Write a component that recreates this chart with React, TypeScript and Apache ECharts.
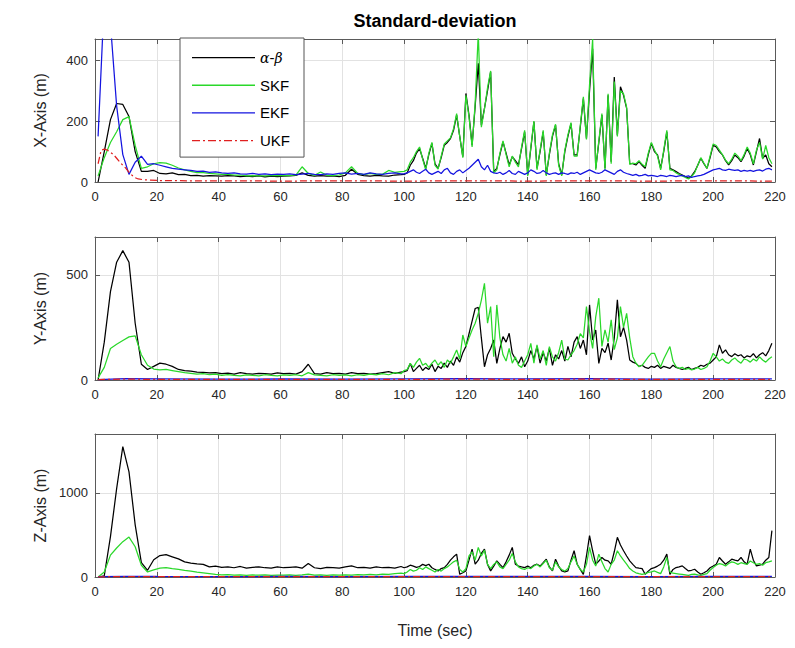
import React, { useEffect, useRef } from "react";
import * as echarts from "echarts";

// ---------- time bases ----------
const timeA = [1,3,5,7,9,11,13,15,17,19,21,23,25,27,29,31,33,35,37,39,41,43,45,47,49,51,53,55,57,59,61,63,65,67,69,71,73,75,77,79,81,83,85,87,89,91,93,95,97,99];
const timeB = [
  100,101,102,103,104,105,106,107,108,109,
  110,111,112,113,114,115,116,117,118,119,
  120,121,122,123,124,125,126,127,128,129,
  130,131,132,133,134,135,136,137,138,139,
  140,141,142,143,144,145,146,147,148,149,
  150,151,152,153,154,155,156,157,158,159,
  160,161,162,163,164,165,166,167,168,169,
  170,171,172,173,174,175,176,177,178,179,
  180,181,182,183,184,185,186,187,188,189,
  190,191,192,193,194,195,196,197,198,199,
  200,201,202,203,204,205,206,207,208,209,
  210,211,212,213,214,215,216,217,218,219];
const time = [...timeA, ...timeB];

// ---------- X axis ----------
const abX = [
  0,100,205,258,255,215,100,35,35,38,
  28,27,30,24,25,21,22,19,21,20,
  19,21,20,18,19,18,20,17,19,18,
  19,20,22,30,22,19,21,19,20,18,
  22,42,25,21,19,22,20,19,23,24,
  25,30,55,70,95,110,78,45,90,127,
  60,45,80,121,130,143,170,220,150,83,
  291,220,121,250,390,187,242,300,362,34,
  45,90,132,95,56,83,70,56,110,165,
  23,110,198,45,100,165,23,90,150,187,
  60,23,100,150,192,89,89,180,274,143,
  300,438,45,130,220,45,285,67,345,154,
  313,285,242,61,60,56,67,55,45,90,
  127,100,89,45,100,165,45,40,34,28,
  23,18,12,20,34,55,78,60,45,80,
  121,115,100,89,70,56,70,89,80,67,
  85,110,90,56,100,143,78,89,60,50];
const skfX = [
  20,80,130,165,205,215,120,45,50,60,
  64,62,55,46,40,35,31,31,28,27,
  25,25,23,23,20,21,20,20,21,21,
  22,21,23,50,28,22,33,22,21,23,
  30,50,28,24,28,25,25,38,32,34,
  35,40,65,80,100,115,75,40,95,130,
  55,42,85,125,135,145,175,225,150,80,
  285,215,115,260,490,180,240,310,365,30,
  40,95,135,90,50,85,65,50,115,170,
  20,115,200,40,105,170,20,95,155,190,
  55,20,105,155,195,85,85,185,280,140,
  320,470,40,135,225,40,290,60,330,150,
  300,290,245,58,62,60,70,58,50,95,
  130,105,85,40,105,170,40,38,30,25,
  20,15,10,18,30,55,80,62,45,85,
  125,120,105,90,72,60,75,95,85,70,
  90,115,95,60,105,130,75,120,80,60];
const ekfX = [
  150,600,520,250,90,25,65,85,58,60,
  55,50,45,42,40,38,35,36,32,33,
  30,28,30,27,26,28,25,27,24,26,
  25,27,24,26,28,25,24,27,25,28,
  30,26,28,25,30,27,25,28,30,27,
  27,30,35,40,32,28,35,42,30,25,
  30,35,28,40,45,30,25,35,40,30,
  38,45,55,65,75,50,40,55,35,30,
  28,32,25,30,38,28,25,35,30,25,
  30,40,35,28,30,38,30,25,28,30,
  25,30,28,25,30,28,32,25,30,35,
  40,35,30,28,32,40,35,30,25,35,
  40,32,28,25,22,25,20,22,25,20,
  22,20,18,22,20,18,22,20,18,20,
  22,18,20,15,18,20,22,25,30,35,
  40,42,45,40,38,42,40,38,40,35,
  38,36,38,35,38,40,36,42,45,40];
const ukfXTime = [1,2,3,4,5,6,7,8,9,10,11,12,13,14,16,18,20,30,40,60,80,100,120,140,160,180,200,219];
const ukfX = [60,105,108,105,98,90,78,66,55,45,32,22,14,10,7,6,5,4,4,3,4,3,4,3,4,3,4,3];

// ---------- Y axis ----------
const abY = [
  0,180,420,560,615,560,270,75,50,65,
  80,75,65,50,45,42,38,36,34,35,
  30,33,28,35,30,28,32,30,28,34,
  30,32,28,40,75,30,28,35,30,32,
  28,35,30,32,28,30,35,40,32,38,
  40,45,79,40,55,70,45,60,50,75,
  40,65,55,80,60,90,70,110,85,130,
  160,220,280,340,345,200,63,120,150,190,
  79,150,206,180,222,127,100,79,110,63,
  90,140,100,160,80,130,90,150,70,120,
  100,140,90,160,110,180,206,150,190,120,
  357,190,238,79,150,130,175,95,200,381,
  206,250,190,95,85,79,65,70,60,55,
  65,60,70,55,65,60,55,70,60,55,
  50,55,60,50,55,60,70,65,75,80,
  95,110,167,127,143,120,111,125,115,120,
  105,115,110,125,105,120,130,115,140,175];
const skfY = [
  10,60,150,170,188,205,210,120,70,52,
  48,50,45,40,35,32,28,30,25,28,
  22,25,22,20,24,22,20,25,22,20,
  24,22,25,20,35,24,22,20,25,22,
  24,20,25,22,28,24,30,25,35,30,
  45,50,79,60,85,103,70,79,60,80,
  95,70,87,60,95,80,110,143,100,214,
  159,200,238,270,317,380,460,270,349,111,
  357,200,120,90,150,80,110,70,60,90,
  120,174,80,167,100,140,70,159,110,90,
  130,190,100,95,120,140,170,220,200,349,
  230,150,300,389,160,238,180,286,145,200,
  349,250,317,200,111,80,63,70,90,110,
  127,127,90,63,100,130,159,90,63,55,
  60,50,55,48,52,60,50,55,63,90,
  127,110,90,100,85,79,95,105,90,80,
  100,95,85,100,90,110,95,85,100,111];

// ---------- Z axis ----------
const abZ = [
  0,15,480,1050,1550,1250,620,170,80,205,
  255,265,240,215,180,165,155,150,120,130,
  115,120,110,125,105,115,120,110,105,120,
  110,115,120,105,160,110,100,115,110,105,
  120,132,110,115,105,120,110,115,105,125,
  110,120,140,130,115,125,150,135,152,110,
  90,72,100,112,150,200,240,272,32,50,
  72,200,332,152,200,280,332,150,72,130,
  192,150,112,180,260,352,152,130,120,112,
  130,110,140,152,130,170,212,120,72,212,
  130,72,60,72,200,312,152,90,32,250,
  492,312,152,190,232,200,192,152,300,472,
  380,312,250,192,150,112,105,100,32,70,
  100,112,130,152,200,272,32,90,112,120,
  132,100,72,80,92,60,32,50,72,110,
  130,152,232,190,152,180,212,200,192,232,
  180,152,332,200,132,140,152,200,232,552];
const skfZ = [
  0,60,260,345,420,475,360,140,60,85,
  105,112,100,92,80,70,58,50,40,30,
  25,28,22,25,20,24,22,26,20,23,
  22,25,20,24,35,22,25,20,24,22,
  25,22,28,24,30,26,35,30,40,45,
  40,60,90,70,80,110,90,120,100,80,
  60,90,70,100,120,150,180,200,90,60,
  100,250,300,200,352,250,320,150,100,150,
  180,120,100,150,200,280,180,120,100,90,
  110,100,130,150,120,160,200,110,80,180,
  120,90,70,100,180,250,150,90,60,150,
  352,200,130,272,180,100,60,150,200,312,
  250,200,152,100,72,50,40,32,40,55,
  60,72,55,40,120,232,60,45,40,35,
  30,25,20,30,35,25,20,30,40,80,
  112,140,160,150,130,160,180,170,150,170,
  160,150,190,170,150,160,140,170,180,192];

// near-zero filters in Y and Z
const lowTime = [1,10,20,40,60,80,100,120,140,160,180,200,219];
const ekfY = [2,6,5,4,5,4,5,6,5,6,4,5,5];
const ukfY = [2,4,3,3,3,3,3,4,3,4,3,3,3];
const ekfZ = [3,8,6,5,6,5,6,7,6,7,5,6,6];
const ukfZ = [2,5,4,4,4,4,4,5,4,5,4,4,4];

// ---------- labels ----------
const seriesNames = ["α-β", "SKF", "EKF", "UKF"];
const axisTitles = ["X-Axis (m)", "Y-Axis (m)", "Z-Axis (m)"];
const yMax = [470, 680, 1700];
const yStep = [200, 500, 1000];
const xTicksMax = 220;
const xStep = 20;

const FONT = "'Liberation Sans', Arial, Helvetica, sans-serif";
const colors = ["#000000", "#2ad82a", "#1414e0", "#e02020"];
const GRID_TOPS = [39, 237, 434];
const GRID_H = 143;
const AX = "#5a5a5a";
const TXT = "#262626";

// legend icons: thin line (solid) and dash-dot, in a 63x14 box
const ANCHORS = "M0,0h0.05v0.05h-0.05zM62.95,13.95h0.05v0.05h-0.05z";
const SOLID_ICON = "path://" + ANCHORS + "M0,6.4h63v1.3h-63z";
const DASHDOT_ICON = "path://" + ANCHORS +
  "M0,6.4h8v1.3h-8zM11,6.4h2v1.3h-2zM16,6.4h8v1.3h-8zM27,6.4h2v1.3h-2zM32,6.4h8v1.3h-8zM43,6.4h2v1.3h-2zM48,6.4h8v1.3h-8zM59,6.4h2v1.3h-2z";

const zip = (t: number[], v: number[]) => t.map((x, i) => [x, v[i]]);

export default function App() {
  const ref = useRef<HTMLDivElement>(null);
  useEffect(() => {
    if (!ref.current) return;
    const chart = echarts.init(ref.current, undefined, { renderer: "svg" });

    const grids = GRID_TOPS.map((top) => ({ left: 95, right: 20, top, height: GRID_H }));

    const xAxes: any[] = [];
    const yAxes: any[] = [];
    for (let i = 0; i < 3; i++) {
      xAxes.push({
        type: "value", gridIndex: i, min: 0, max: xTicksMax, interval: xStep, position: "bottom",
        axisLine: { show: true, onZero: false, lineStyle: { color: AX, width: 1 } },
        axisTick: { show: true, inside: true, length: 5, lineStyle: { color: AX } },
        axisLabel: { show: true, color: TXT, fontSize: 13, fontFamily: FONT, margin: 8, formatter: (v: number) => String(v) },
        splitLine: { show: true, lineStyle: { color: "#e2e2e2", width: 1 } },
        name: i === 2 ? "Time (sec)" : "", nameLocation: "middle", nameGap: 45,
        nameTextStyle: { fontSize: 16, color: TXT, fontFamily: FONT },
      });
      yAxes.push({
        type: "value", gridIndex: i, min: 0, max: yMax[i], interval: yStep[i], position: "left",
        axisLine: { show: true, onZero: false, lineStyle: { color: AX, width: 1 } },
        axisTick: { show: true, inside: true, length: 5, lineStyle: { color: AX } },
        axisLabel: { show: true, color: TXT, fontSize: 13, fontFamily: FONT, margin: 7, showMaxLabel: false, formatter: (v: number) => String(v) },
        splitLine: { show: true, lineStyle: { color: "#e2e2e2", width: 1 } },
        name: axisTitles[i], nameLocation: "middle", nameGap: 47, nameRotate: 90,
        nameTextStyle: { fontSize: 16, color: TXT, fontFamily: FONT },
      });
    }
    for (let i = 0; i < 3; i++) {
      xAxes.push({
        type: "value", gridIndex: i, min: 0, max: xTicksMax, interval: xStep, position: "top",
        axisLine: { show: true, onZero: false, lineStyle: { color: AX, width: 1 } },
        axisTick: { show: true, inside: true, length: 5, lineStyle: { color: AX } },
        axisLabel: { show: false }, splitLine: { show: false },
      });
      yAxes.push({
        type: "value", gridIndex: i, min: 0, max: yMax[i], interval: yStep[i], position: "right",
        axisLine: { show: true, onZero: false, lineStyle: { color: AX, width: 1 } },
        axisTick: { show: true, inside: true, length: 5, lineStyle: { color: AX } },
        axisLabel: { show: false }, splitLine: { show: false },
      });
    }

    const mk = (name: string, k: number, data: number[][], idx: number) => ({
      type: "line", name, xAxisIndex: idx, yAxisIndex: idx, data,
      symbol: "none", showSymbol: false, clip: true, silent: true,
      lineStyle: { color: colors[k], width: 1.25, type: k === 3 ? [7, 3, 2, 3] : "solid" },
      itemStyle: { color: colors[k] },
    });

    const series = [
      mk(seriesNames[0], 0, zip(time, abX), 0),
      mk(seriesNames[1], 1, zip(time, skfX), 0),
      mk(seriesNames[2], 2, zip(time, ekfX), 0),
      mk(seriesNames[3], 3, zip(ukfXTime, ukfX), 0),
      mk(seriesNames[0], 0, zip(time, abY), 1),
      mk(seriesNames[1], 1, zip(time, skfY), 1),
      mk(seriesNames[2], 2, zip(lowTime, ekfY), 1),
      mk(seriesNames[3], 3, zip(lowTime, ukfY), 1),
      mk(seriesNames[0], 0, zip(time, abZ), 2),
      mk(seriesNames[1], 1, zip(time, skfZ), 2),
      mk(seriesNames[2], 2, zip(lowTime, ekfZ), 2),
      mk(seriesNames[3], 3, zip(lowTime, ukfZ), 2),
    ];

    chart.setOption({
      animation: false,
      backgroundColor: "#ffffff",
      grid: grids,
      xAxis: xAxes,
      yAxis: yAxes,
      legend: {
        data: seriesNames.map((n, k) => ({ name: n, icon: k === 3 ? DASHDOT_ICON : SOLID_ICON, itemStyle: { color: colors[k] } })),
        orient: "vertical", left: 180, top: 38,
        itemWidth: 63, itemHeight: 14, itemGap: 12.7,
        padding: [12, 14, 9, 12],
        backgroundColor: "#ffffff", borderColor: "#555555", borderWidth: 1, borderRadius: 0,
        selectedMode: false,
        textStyle: {
          fontSize: 15, color: "#000", fontFamily: FONT,
          rich: { i: { fontStyle: "italic", fontFamily: "'DejaVu Serif', serif", fontSize: 14, color: "#000" } },
        },
        formatter: (n: string) => (n === "α-β" ? "{i|α}-{i|β}" : n),
      },
      graphic: [
        {
          type: "text", x: 435, y: 21, silent: true,
          style: { text: "Standard-deviation", fontSize: 18, fontWeight: "bold", fontFamily: FONT, fill: "#000", align: "center", textAlign: "center", verticalAlign: "middle", textVerticalAlign: "middle" },
        },
      ],
      series,
    });
    return () => chart.dispose();
  }, []);
  return <div ref={ref} style={{ position: "fixed", left: 0, top: 0, width: 795, height: 648 }} />;
}
